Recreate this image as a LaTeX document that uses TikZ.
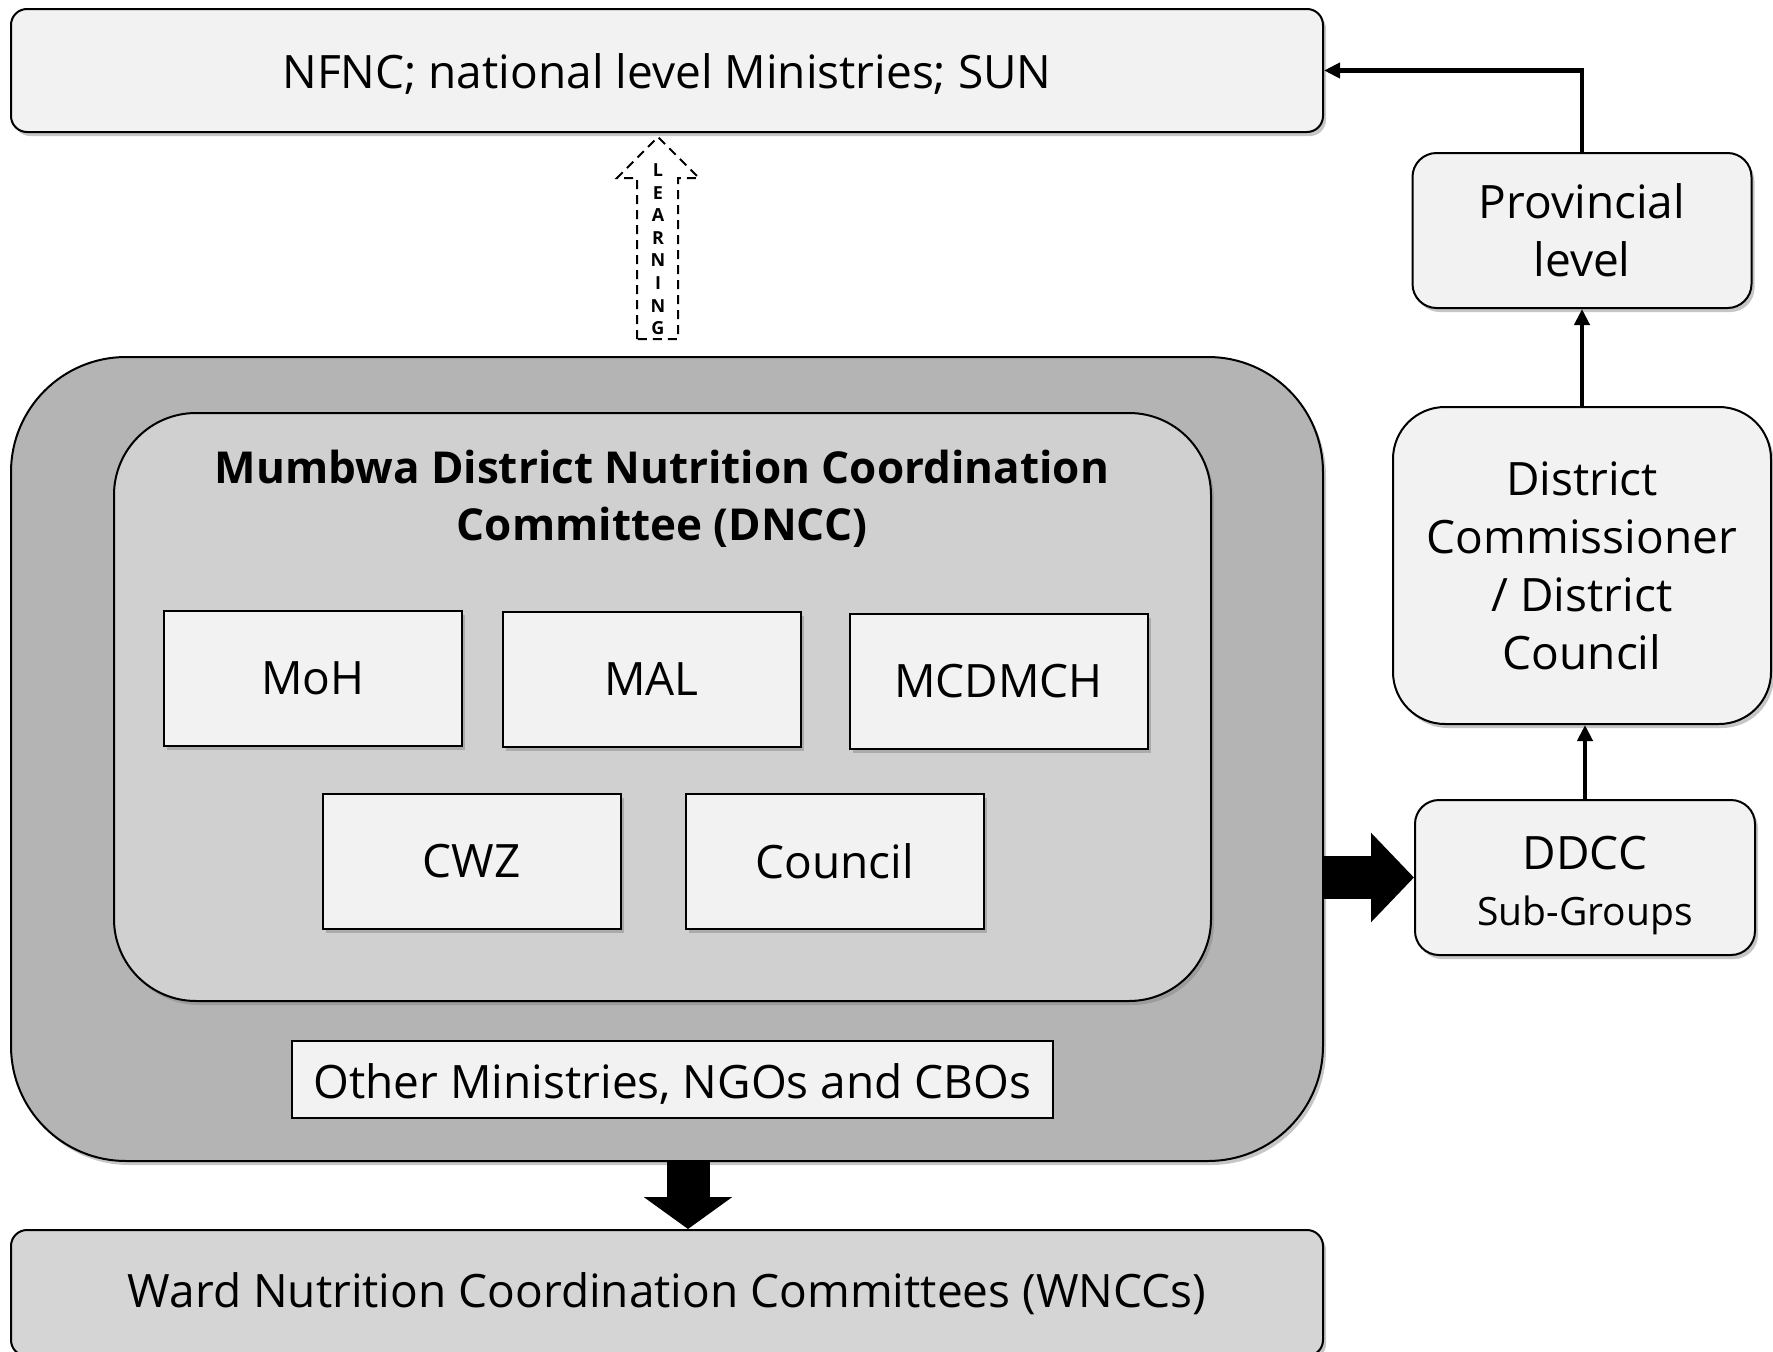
\documentclass[tikz,border=0pt]{standalone}
\usepackage{fontspec}
\setmainfont{Open Sans}
\usetikzlibrary{positioning,arrows.meta,shadows}

\definecolor{paleg}{HTML}{F2F2F2}
\definecolor{midg}{HTML}{D0D0D0}
\definecolor{darkg}{HTML}{B4B4B4}
\newcommand{\lowered}[2]{\raisebox{-#1}[\height][\depth]{#2}}

\begin{document}
\begin{tikzpicture}[x=1pt,y=-1pt,
    font=\fontsize{46}{58}\selectfont,
    shade/.style={drop shadow={shadow xshift=3pt,shadow yshift=-4pt,opacity=0.45}},
    box/.style={draw, line width=2pt, fill=paleg, shade, align=center, inner sep=0pt},
    rbox/.style={box, rounded corners=#1},
    member/.style={box, minimum width=298pt, minimum height=135pt},
    letter/.style={font=\fontsize{18}{20}\selectfont\bfseries, inner sep=0pt},
    ar/.style={-{Triangle[length=16pt,width=15pt]}, line width=4.5pt},
    blk/.style={line width=43pt},
]
\useasboundingbox (0,0) rectangle (1773,1352);
% --- national level and the right-hand column ---
\node[rbox=16pt, minimum width=1312pt, minimum height=123pt] (nfnc) at (667,70.5)
  {\lowered{3pt}{NFNC; national level Ministries; SUN}};
\node[rbox=24pt, minimum width=339pt, minimum height=155pt] (prov) at (1582,230.5)
  {Provincial\\level};
\node[rbox=52pt, minimum width=378pt, minimum height=317pt] (dc) at (1582,565.5)
  {District\\Commissioner\\/ District\\Council};
\node[rbox=24pt, minimum width=340pt, minimum height=155pt] (ddcc) at (1585,877.5)
  {\lowered{7pt}{DDCC}\\[-4pt]\lowered{9pt}{\fontsize{39}{46}\selectfont Sub-Groups}};
% --- district level ---
\node[rbox=115pt, fill=darkg, minimum width=1312pt, minimum height=804pt] (outer) at (667,759) {};
\node[rbox=82pt, fill=midg, minimum width=1097pt, minimum height=588pt] (dncc) at (662.5,707) {};
\node[font=\fontsize{44}{57}\selectfont\bfseries, align=center] (title) at (662,499)
  {Mumbwa District Nutrition Coordination\\Committee (DNCC)};
\foreach \nm/\px/\py/\txt in {moh/313/678.5/MoH, mal/651.5/679.5/MAL, mcd/998.5/681/MCDMCH,
                               cwz/471.5/861.5/CWZ, cnl/834.5/861.5/Council}{
  \node[member] (\nm) at (\px,\py) {\txt};}
\node[draw, line width=2pt, fill=paleg, minimum width=761pt, minimum height=77pt, inner sep=0pt]
  (other) at (672.5,1079.5) {\lowered{4pt}{Other Ministries, NGOs and CBOs}};
% --- ward level ---
\node[rbox=16pt, fill=midg!85!paleg, minimum width=1312pt, minimum height=126pt] (wncc) at (667,1293)
  {\lowered{1pt}{Ward Nutrition Coordination Committees (WNCCs)}};
% --- connectors ---
\draw[ar] (prov.north) |- (nfnc.east);
\draw[ar] (dc.north -| prov.south) -- (prov.south);
\draw[ar] (ddcc.north) -- (ddcc.north |- dc.south);
\draw[blk, -{Triangle[length=43pt,width=87pt]}] (outer.east |- ddcc.west) -- (ddcc.west);
\coordinate (down) at ([xshift=21pt]outer.south);
\draw[blk, -{Triangle[length=32pt,width=87pt]}] (down) -- (down |- wncc.north);
% --- learning arrow ---
\draw[line width=2pt, dash pattern=on 9pt off 6pt, fill=white]
  (637,339) -- (637,178) -- (617,178) -- (658,137) -- (699,178) -- (678,178) -- (678,339) -- cycle;
\foreach \ch [count=\i] in {L,E,A,R,N,I,N,G}
  \node[letter] (l\i) at (658,{170+22.6*(\i-1)}) {\ch};
\end{tikzpicture}
\end{document}
